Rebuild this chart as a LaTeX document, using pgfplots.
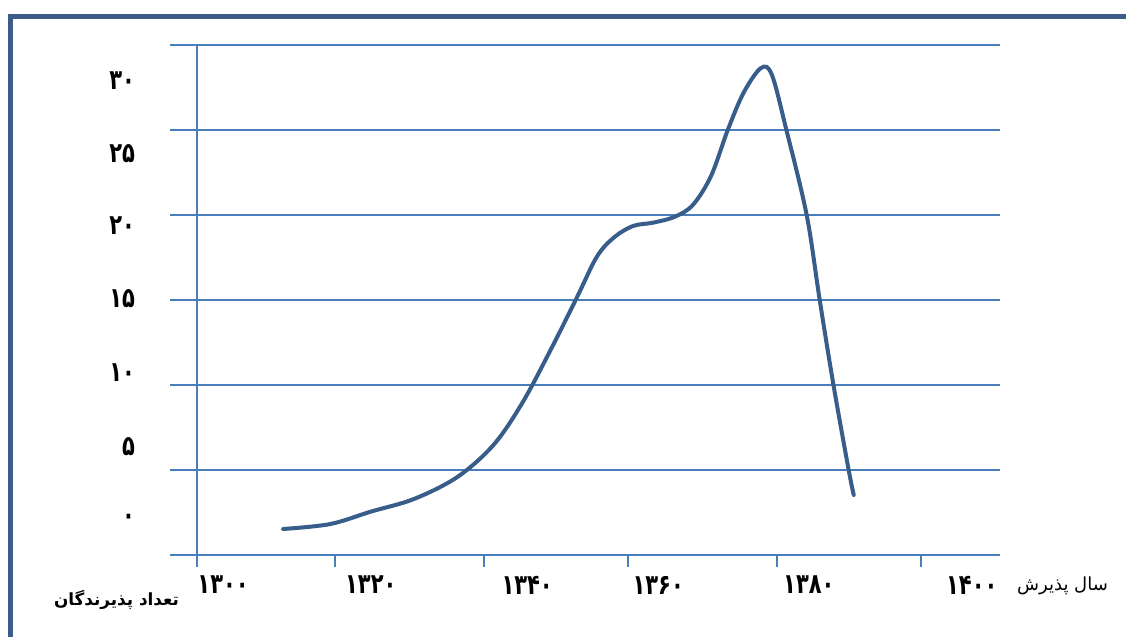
\documentclass[border=0pt]{standalone}
\usepackage{pgfplots}
\pgfplotsset{compat=1.18}
\usepackage{fontspec}
\setmainfont{DejaVu Sans}
\newfontfamily\fa[Script=Arabic]{DejaVu Sans}
\newfontfamily\fanum[Script=Arabic, FakeStretch=0.75]{DejaVu Sans}
\TeXXeTstate=1
\definecolor{gridblue}{RGB}{74,126,187}
\definecolor{lineblue}{RGB}{56,93,138}
\definecolor{frameblue}{RGB}{60,92,135}

\begin{document}
\begin{tikzpicture}
\useasboundingbox (0,0) rectangle (563pt,318.5pt);
% outer frame, only top and left edges visible
\draw[frameblue, line width=2.5pt] (5pt,0) -- (5pt,310.25pt) -- (563pt,310.25pt);
\begin{axis}[
    at={(85pt,41pt)}, anchor=south west,
    scale only axis, width=415pt, height=255pt,
    xmin=1296.27, xmax=1410.9, ymin=0, ymax=30,
    clip=false,
    axis line style={draw=none},
    ytick={0,5,...,30}, yticklabels={},
    ytick style={draw=none},
    ymajorgrids,
    major grid style={gridblue, line width=1.1pt},
    xtick={1300,1319.1,1339.6,1359.5,1380.1,1400}, xticklabels={},
    xtick pos=bottom, tick align=outside, major tick length=6pt,
    xtick style={gridblue, line width=1.1pt},
    extra y ticks={27.9,23.6,19.37,15.06,10.7,6.4,2.1},
    extra y tick labels={۳۰,۲۵,۲۰,۱۵,۱۰,۵,۰},
    extra y tick style={grid=none, yticklabel style={anchor=east, xshift=-8pt}},
    extra x ticks={1303.6,1324.0,1345.6,1363.7,1384.5,1407.0},
    extra x tick labels={۱۳۰۰,۱۳۲۰,۱۳۴۰,۱۳۶۰,۱۳۸۰,۱۴۰۰},
    extra x tick style={grid=none, major tick length=0pt, xtick style={draw=none},
        xticklabel style={anchor=center, yshift=-15pt}},
    tick label style={font=\fanum\bfseries\fontsize{14}{16}\selectfont, text=black},
]
\draw[gridblue, line width=1.1pt] (axis cs:1300,30) -- (axis cs:1300,0);
\addplot[lineblue, line width=2pt, smooth, tension=0.55, line cap=round] coordinates {
    (1311.9,1.53) (1318.4,1.82) (1324,2.55) (1330,3.3) (1336,4.6)
    (1341,6.5) (1345,9) (1349,12.2) (1352.5,15.18) (1355.2,17.53)
    (1357.5,18.65) (1360.2,19.35) (1363.0,19.55) (1366,19.9) (1368.5,20.6)
    (1371,22.3) (1373.3,25.0) (1375.5,27.2) (1377.9,28.65) (1379.4,28.24)
    (1381.4,25) (1384.2,20) (1386.0,15) (1387.9,10) (1390.0,5) (1390.7,3.53)
};
\end{axis}
\node[font=\fa\fontsize{9}{11}\selectfont] at (531.25pt,25.5pt) {\beginR سال پذیرش\endR};
\node[font=\fa\bfseries\fontsize{8.4}{10}\selectfont] at (58.25pt,18.5pt) {\beginR تعداد پذیرندگان\endR};
\end{tikzpicture}
\end{document}
